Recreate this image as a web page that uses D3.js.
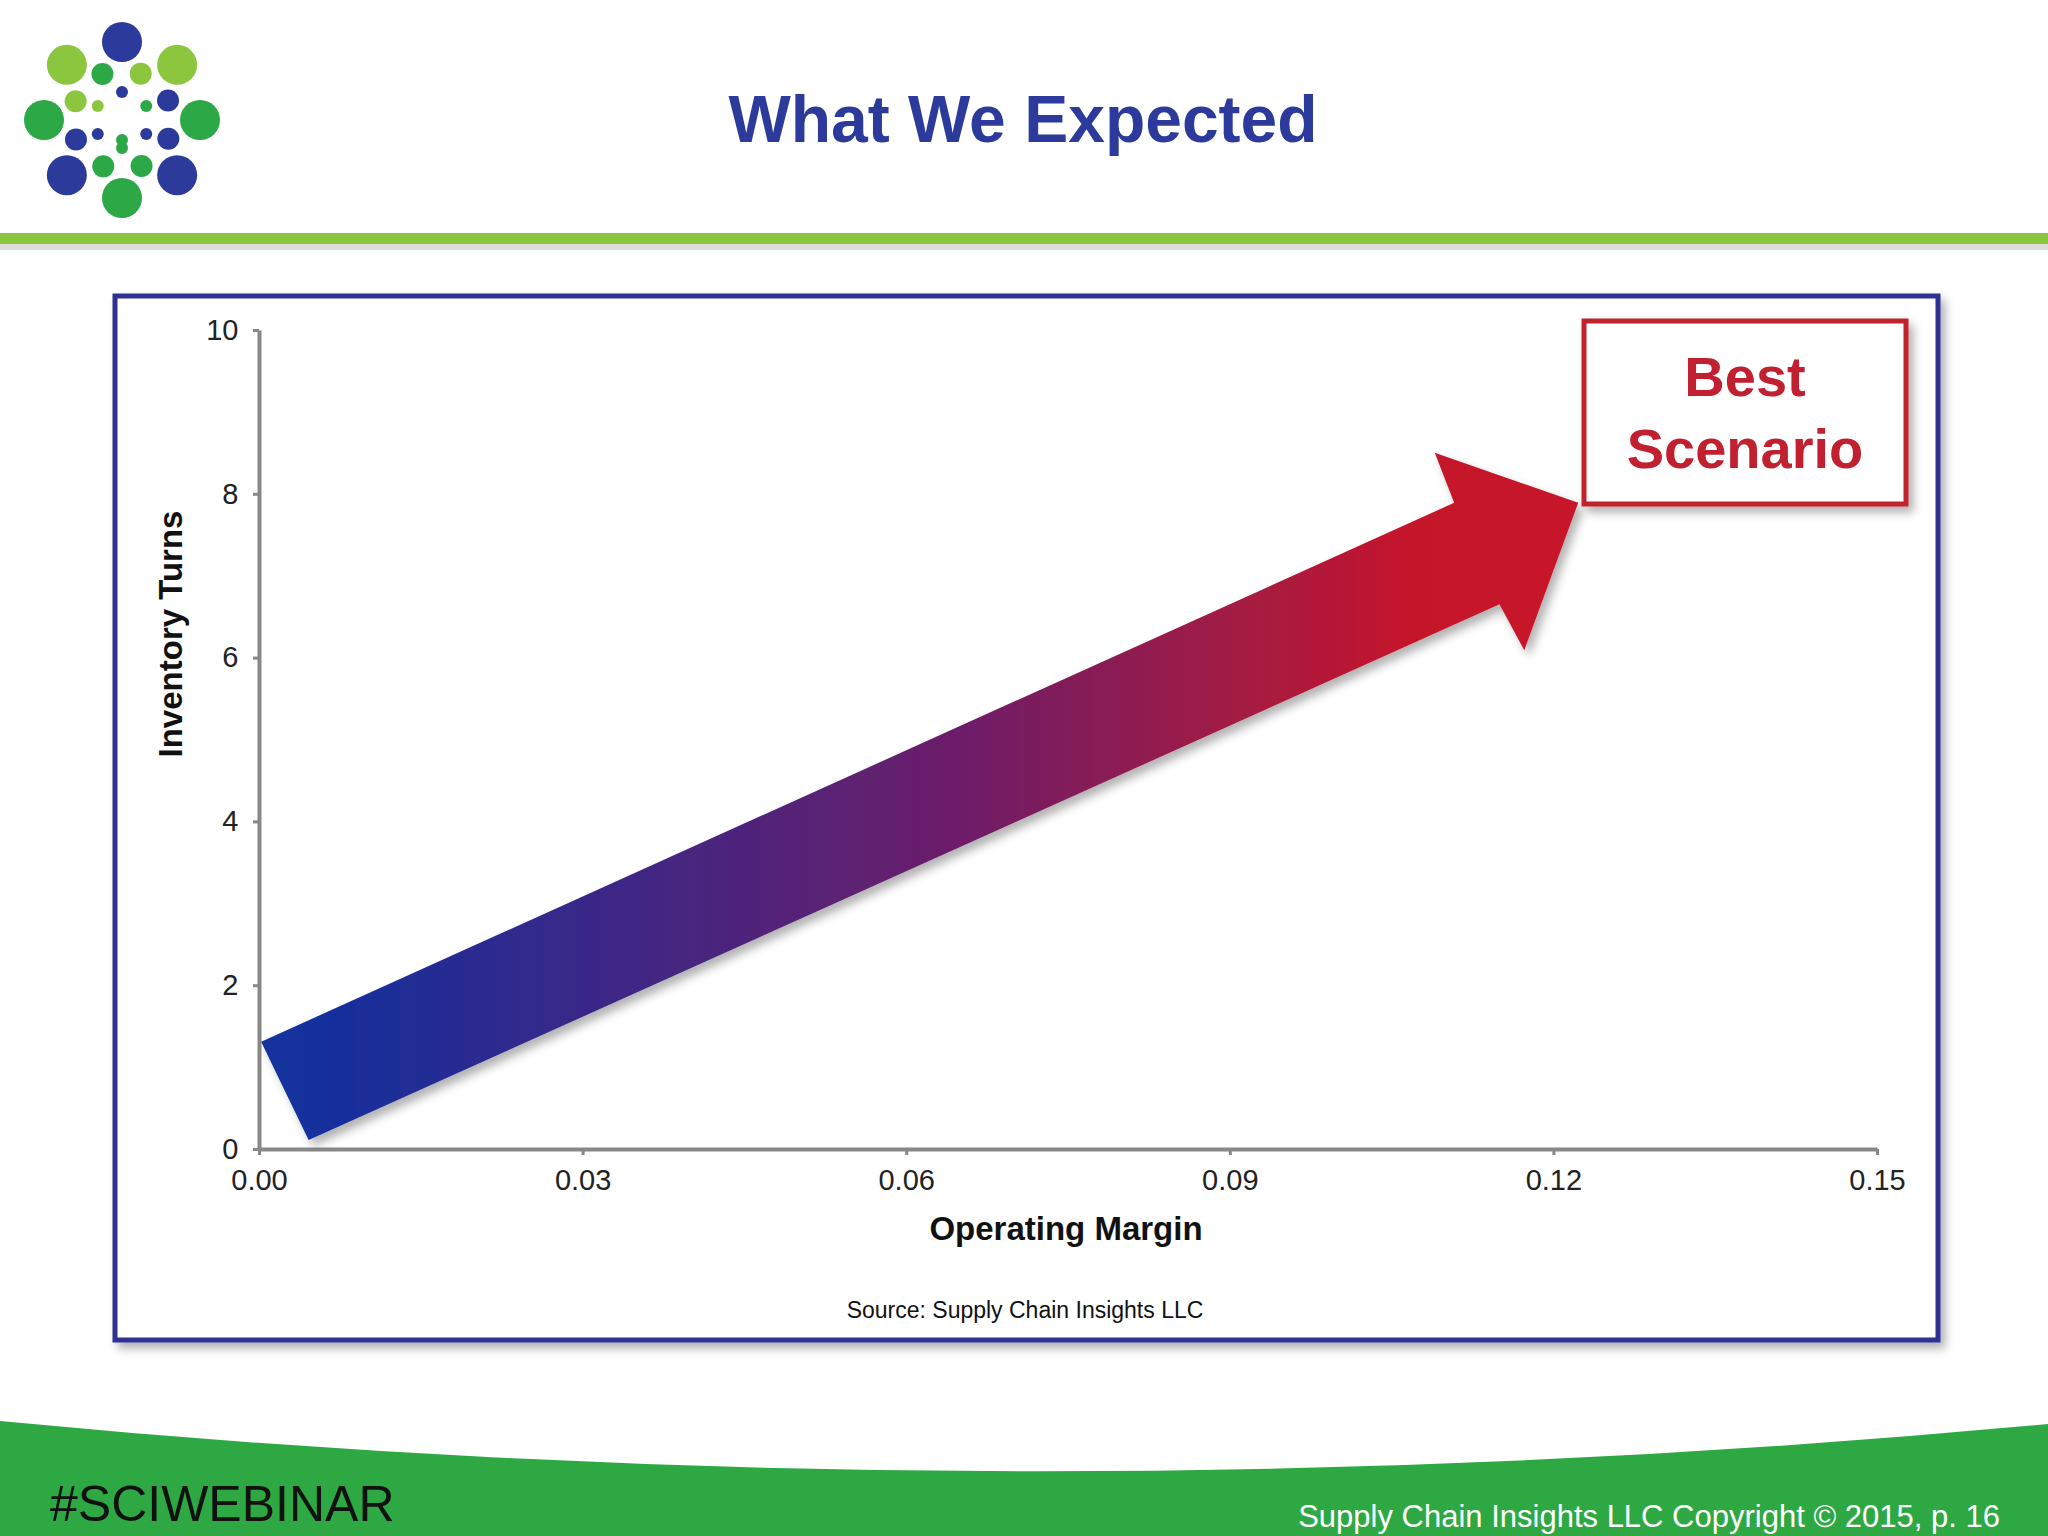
<!DOCTYPE html>
<meta charset="utf-8">
<title>What We Expected</title>
<style>
body { margin: 0; background: #fff; }
text { font-family: "Liberation Sans", Arial, sans-serif; }
</style>
<body>
<svg width="2048" height="1536"></svg>
<script src="https://d3js.org/d3.v7.min.js"></script>
<script>
var xTicks = [0, 0.03, 0.06, 0.09, 0.12, 0.15];
var yTicks = [0, 2, 4, 6, 8, 10];
// arrow outline in data units (operating margin, inventory turns)
var arrowPts = [
  [0.0002, 1.31], [0.1108, 7.89], [0.109, 8.5], [0.1223, 7.89],
  [0.1173, 6.09], [0.115, 6.65], [0.0046, 0.11]
];
// logo dots: angle (deg), ring, colour
var logoDots = [
  [0, 3, "#2b3a9b"], [45, 3, "#8cc63f"], [90, 3, "#2ca846"], [135, 3, "#2b3a9b"],
  [180, 3, "#2ca846"], [225, 3, "#2b3a9b"], [270, 3, "#2ca846"], [315, 3, "#8cc63f"],
  [22, 2, "#8cc63f"], [67, 2, "#2b3a9b"], [112, 2, "#2b3a9b"], [157, 2, "#2ca846"],
  [202, 2, "#2ca846"], [247, 2, "#2b3a9b"], [292, 2, "#8cc63f"], [337, 2, "#2ca846"],
  [0, 1, "#2b3a9b"], [60, 1, "#2ca846"], [120, 1, "#2b3a9b"], [180, 1, "#2ca846"],
  [240, 1, "#2b3a9b"], [300, 1, "#8cc63f"]
];

var svg = d3.select("svg");
var defs = svg.append("defs");
var grad = defs.append("linearGradient").attr("id", "ag").attr("gradientUnits", "userSpaceOnUse")
  .attr("x1", 300).attr("x2", 1600).attr("y1", 0).attr("y2", 0);
grad.append("stop").attr("offset", "0").attr("stop-color", "#12309f");
grad.append("stop").attr("offset", "0.5").attr("stop-color", "#6b1e6a");
grad.append("stop").attr("offset", "0.85").attr("stop-color", "#c4182c");
grad.append("stop").attr("offset", "1").attr("stop-color", "#c8152a");
var sh = defs.append("filter").attr("id", "sh").attr("x", "-10%").attr("y", "-10%").attr("width", "130%").attr("height", "130%");
sh.append("feDropShadow").attr("dx", 5).attr("dy", 6).attr("stdDeviation", 5).attr("flood-color", "#000").attr("flood-opacity", 0.3);

// logo
var cx = 122, cy = 120;
var ringR = {1: 28, 2: 50, 3: 78}, dotR = {1: 6, 2: 11, 3: 20};
svg.append("g").selectAll("circle").data(logoDots).enter().append("circle")
  .attr("cx", d => cx + ringR[d[1]] * Math.sin(d[0] * Math.PI / 180))
  .attr("cy", d => cy - ringR[d[1]] * Math.cos(d[0] * Math.PI / 180))
  .attr("r", d => dotR[d[1]]).attr("fill", d => d[2]);
svg.append("circle").attr("cx", cx).attr("cy", cy + 20).attr("r", 6).attr("fill", "#2ca846");

svg.append("text").attr("x", 1023).attr("y", 142).attr("text-anchor", "middle")
  .attr("font-size", 66).attr("font-weight", "bold").attr("fill", "#2b3a9b").text("What We Expected");

svg.append("rect").attr("x", 0).attr("y", 244).attr("width", 2048).attr("height", 6).attr("fill", "#ddd");
svg.append("rect").attr("x", 0).attr("y", 233).attr("width", 2048).attr("height", 11).attr("fill", "#8cc63f");

// chart frame
svg.append("rect").attr("x", 115).attr("y", 296).attr("width", 1823).attr("height", 1044)
  .attr("fill", "#fff").attr("stroke", "#2e3192").attr("stroke-width", 5).attr("filter", "url(#sh)");

var x = d3.scaleLinear().domain([0, 0.15]).range([259, 1877]);
var y = d3.scaleLinear().domain([0, 10]).range([1149, 330]);

var gx = svg.append("g").attr("transform", "translate(0,1149)")
  .call(d3.axisBottom(x).tickValues(xTicks).tickFormat(d3.format(".2f")).tickSize(6).tickSizeOuter(0));
var gy = svg.append("g").attr("transform", "translate(259,0)")
  .call(d3.axisLeft(y).tickValues(yTicks).tickSize(6).tickSizeOuter(0));
[gx, gy].forEach(g => {
  g.select(".domain").attr("stroke", "#888").attr("stroke-width", 4);
  g.selectAll(".tick line").attr("stroke", "#888").attr("stroke-width", 3);
  g.selectAll(".tick text").attr("font-size", 29).attr("fill", "#222")
    .style("font-family", "Liberation Sans, Arial, sans-serif");
});
gx.selectAll(".tick text").attr("dy", "1.1em");
gy.selectAll(".tick text").attr("dx", "-0.4em");

svg.append("text").attr("x", 1066).attr("y", 1240).attr("text-anchor", "middle")
  .attr("font-size", 33).attr("font-weight", "bold").attr("fill", "#111").text("Operating Margin");
svg.append("text").attr("transform", "translate(182,634) rotate(-90)").attr("text-anchor", "middle")
  .attr("font-size", 33).attr("font-weight", "bold").attr("fill", "#111").text("Inventory Turns");
svg.append("text").attr("x", 1025).attr("y", 1318).attr("text-anchor", "middle")
  .attr("font-size", 23).attr("fill", "#111").text("Source:  Supply Chain  Insights LLC");

svg.append("path").datum(arrowPts)
  .attr("d", d3.line().x(d => x(d[0])).y(d => y(d[1])).curve(d3.curveLinearClosed))
  .attr("fill", "url(#ag)").attr("filter", "url(#sh)");

// Best Scenario box
svg.append("rect").attr("x", 1584).attr("y", 321).attr("width", 322).attr("height", 183)
  .attr("fill", "#fff").attr("stroke", "#c0202f").attr("stroke-width", 5).attr("filter", "url(#sh)");
svg.append("text").attr("x", 1745).attr("y", 396).attr("text-anchor", "middle")
  .attr("font-size", 56).attr("font-weight", "bold").attr("fill", "#c0202f").text("Best");
svg.append("text").attr("x", 1745).attr("y", 468).attr("text-anchor", "middle")
  .attr("font-size", 56).attr("font-weight", "bold").attr("fill", "#c0202f").text("Scenario");

// footer band
svg.append("path").attr("d", "M0,1421 Q1024,1520 2048,1424 L2048,1536 L0,1536 Z").attr("fill", "#2ea843");
svg.append("text").attr("x", 50).attr("y", 1521).attr("font-size", 50).attr("fill", "#111").text("#SCIWEBINAR");
svg.append("text").attr("x", 2000).attr("y", 1527).attr("text-anchor", "end")
  .attr("font-size", 31).attr("fill", "#fff").text("Supply Chain Insights LLC Copyright © 2015, p. 16");
</script>
</body>
